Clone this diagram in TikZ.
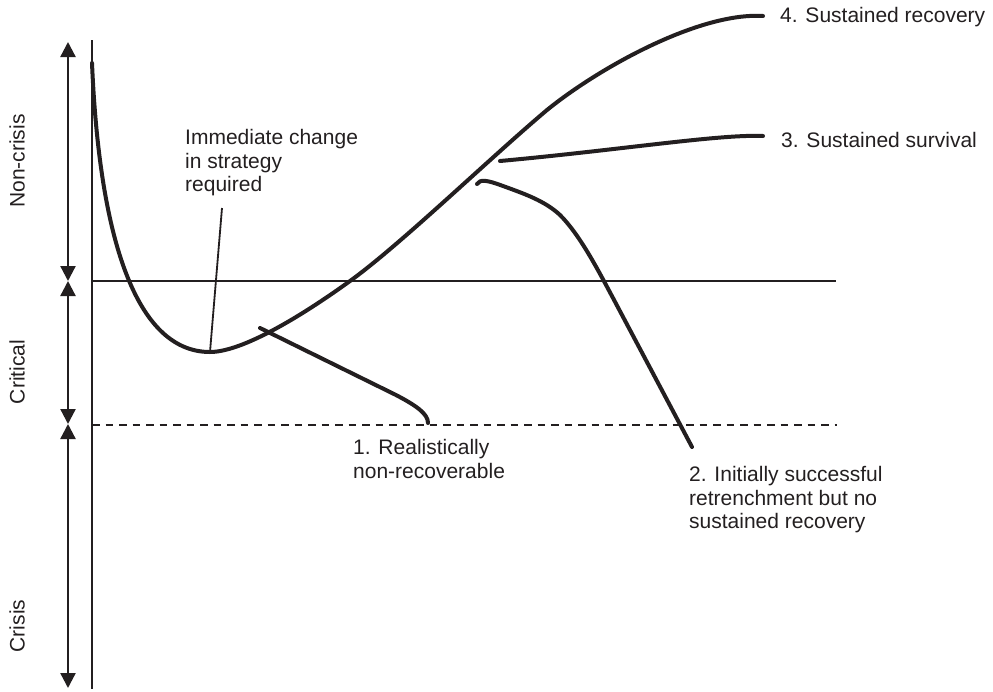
\documentclass[tikz,border=0pt]{standalone}
\usepackage{fontspec}
\setmainfont{Liberation Sans}
\usetikzlibrary{arrows.meta}
\definecolor{ink}{RGB}{35,31,32}
\begin{document}
\begin{tikzpicture}[x=1pt,y=-1pt,
  every node/.style={inner sep=0pt,text=ink,font=\fontsize{21}{23.5}\selectfont},
  lbl/.style={anchor=north west,align=left},
  zonelabel/.style={rotate=90,anchor=center},
  pathline/.style={draw=ink,line width=4pt,line cap=round,line join=round},
  thinline/.style={draw=ink,line width=1.8pt},
  zonearrow/.style={draw=ink,line width=2.3pt,{Triangle[width=15pt,length=15pt]}-{Triangle[width=15pt,length=15pt]}}]
\useasboundingbox (0,0) rectangle (993,691);

% axis and zone boundaries
\coordinate (axT) at (92,40);
\coordinate (axB) at (92,689);
\coordinate (hlL) at (92,281);
\coordinate (hlR) at (836,281);
\coordinate (dlL) at (92,425);
\coordinate (dlR) at (837,425);
\draw[draw=ink,line width=2.3pt] (axT) -- (axB);
\draw[thinline] (hlL) -- (hlR);
\draw[draw=ink,line width=1.6pt,dash pattern=on 7.5pt off 6pt] (dlL) -- (dlR);

% zone ranges
\coordinate (r0) at (68,42);
\coordinate (r1) at (68,281);
\coordinate (r2) at (68,424);
\coordinate (r3) at (68,688);
\draw[zonearrow] (r0) -- (r1);
\draw[zonearrow] (r1) -- (r2);
\draw[zonearrow] (r2) -- (r3);
\node[zonelabel] (zn) at (17,161) {Non-crisis};
\node[zonelabel] (zc) at (17,372) {Critical};
\node[zonelabel] (zk) at (17,626) {Crisis};

% main trajectory
\coordinate (m0) at (92,63);
\coordinate (mLow) at (210,352);
\coordinate (mCross) at (350,281);
\coordinate (mMid) at (547,110);
\coordinate (mEnd) at (763,16);
\draw[pathline] (m0) .. controls (100,250) and (140,352) .. (mLow)
  .. controls (245,352) and (310,310) .. (mCross)
  .. controls (400,245) and (490,158) .. (mMid)
  .. controls (600,67) and (700,12) .. (mEnd);

% branch 1
\coordinate (b1s) at (260,328);
\coordinate (b1e) at (428,423);
\draw[pathline] (b1s) -- (396,395) .. controls (417,406) and (428,414) .. (b1e);

% branch 2
\coordinate (b2s) at (477,184);
\coordinate (b2e) at (692,447);
\draw[pathline] (b2s) .. controls (480,179) and (487,180) .. (503,186)
  .. controls (525,194) and (545,201) .. (560,215)
  .. controls (580,235) and (598,270) .. (613,298) -- (b2e);

% branch 3
\coordinate (b3s) at (500,161);
\coordinate (b3e) at (763,136);
\draw[pathline] (b3s) .. controls (620,150) and (720,134) .. (b3e);

% pointer
\coordinate (pT) at (222,208);
\draw[thinline] (pT) -- (mLow);

% labels
\node[lbl] (im) at (185,129.5) {Immediate change\\in strategy\\required};
\node[lbl] (l1) at (353,439.5) {1. Realistically\\non-recoverable};
\node[lbl] (l2) at (689,466.5) {2. Initially successful\\retrenchment but no\\sustained recovery};
\node[lbl] (l3) at (781,132.5) {3. Sustained survival};
\node[lbl] (l4) at (780,7.5) {4. Sustained recovery};
\end{tikzpicture}
\end{document}
